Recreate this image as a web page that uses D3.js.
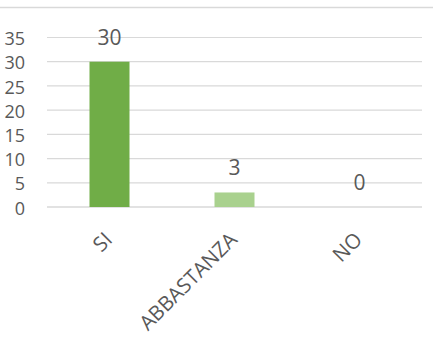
<!DOCTYPE html>
<html>
<head>
<meta charset="utf-8">
<script src="https://cdn.jsdelivr.net/npm/d3@7"></script>
<style>
  html, body { margin: 0; padding: 0; background: #fff; }
  svg { display: block; }
  text { font-family: "Open Sans", "Liberation Sans", sans-serif; fill: #595959; }
</style>
</head>
<body>
<svg id="chart" width="443" height="349"></svg>
<script>
const categories = ["SI", "ABBASTANZA", "NO"];
const values = [30, 3, 0];
const barColors = ["#70AD47", "#A9D18E", "#A9D18E"];
const yTicks = [0, 5, 10, 15, 20, 25, 30, 35];

const svg = d3.select("#chart");
const plot = { left: 47, right: 422, top: 37.5, bottom: 207 };

// chart frame top border
svg.append("line")
  .attr("x1", 0).attr("x2", 433)
  .attr("y1", 7.5).attr("y2", 7.5)
  .attr("stroke", "#D9D9D9").attr("stroke-width", 1.5);

const x = d3.scaleBand()
  .domain(categories)
  .range([plot.left, plot.right])
  .paddingInner(0.68)
  .paddingOuter(0.34);

const y = d3.scaleLinear()
  .domain([0, 35])
  .range([plot.bottom, plot.top]);

// gridlines
svg.append("g")
  .selectAll("line")
  .data(yTicks)
  .join("line")
  .attr("x1", plot.left).attr("x2", plot.right)
  .attr("y1", d => y(d)).attr("y2", d => y(d))
  .attr("stroke", "#D9D9D9")
  .attr("stroke-width", d => d === 0 ? 1.5 : 1.2);

// y axis labels
const yAxis = d3.axisLeft(y).tickValues(yTicks).tickSize(0).tickPadding(0);
const yg = svg.append("g")
  .attr("transform", `translate(25,0)`)
  .call(yAxis);
yg.select(".domain").remove();
yg.selectAll("text")
  .attr("font-size", 18)
  .attr("font-family", "'Open Sans', sans-serif")
  .attr("fill", "#595959")
  .attr("dy", "0.4em");

// bars
svg.append("g")
  .selectAll("rect")
  .data(values)
  .join("rect")
  .attr("x", (d, i) => x(categories[i]))
  .attr("width", x.bandwidth())
  .attr("y", d => y(d))
  .attr("height", d => y(0) - y(d))
  .attr("fill", (d, i) => barColors[i]);

// data labels
svg.append("g")
  .selectAll("text")
  .data(values)
  .join("text")
  .attr("x", (d, i) => x(categories[i]) + x.bandwidth() / 2)
  .attr("y", d => y(d) - 17)
  .attr("text-anchor", "middle")
  .attr("font-size", 21)
  .text(d => d);

// x axis labels
const xAxis = d3.axisBottom(x).tickSize(0).tickPadding(0);
const xg = svg.append("g")
  .attr("transform", `translate(0,${plot.bottom})`)
  .call(xAxis);
xg.select(".domain").remove();
xg.selectAll(".tick text")
  .attr("font-size", 20.5)
  .attr("font-family", "'Open Sans', sans-serif")
  .attr("fill", "#595959")
  .attr("text-anchor", "end")
  .attr("x", 0).attr("y", 0).attr("dy", 0)
  .attr("transform", "translate(4,34) rotate(-45)");
</script>
</body>
</html>
